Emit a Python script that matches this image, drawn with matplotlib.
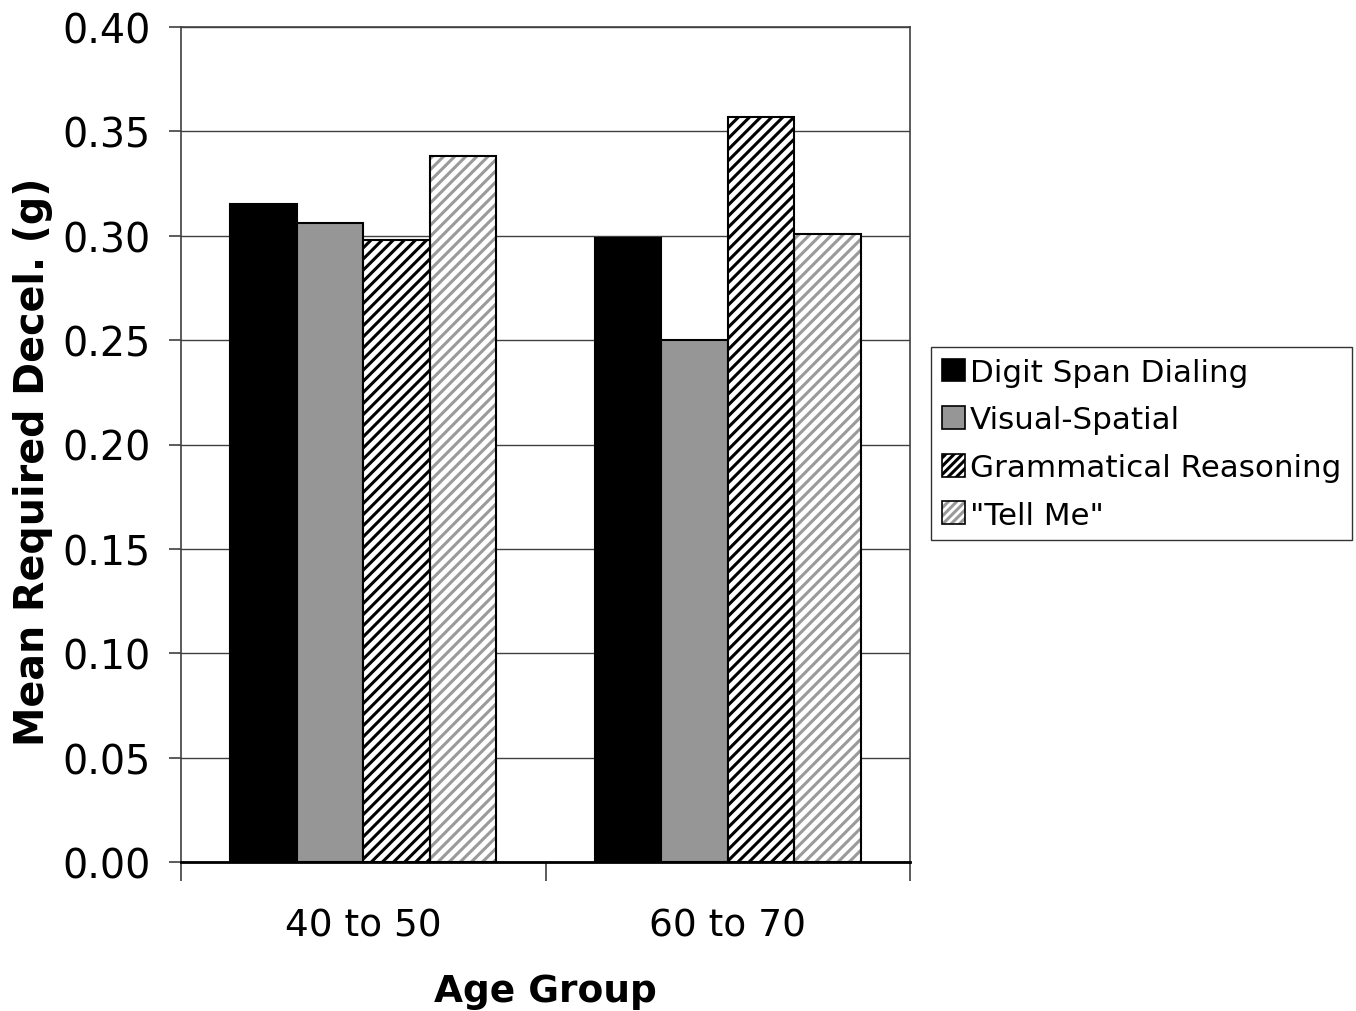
import matplotlib

matplotlib.use("Agg")
import matplotlib.pyplot as plt
import numpy as np

# ---------------------------------------------------------------------------
# Data
# ---------------------------------------------------------------------------

age_groups = ["40 to 50", "60 to 70"]
tasks = ["Digit Span Dialing", "Visual-Spatial", "Grammatical Reasoning", '"Tell Me"']

digit_span = [0.315, 0.299]
visual_spatial = [0.306, 0.250]
grammatical = [0.298, 0.357]
tell_me = [0.338, 0.301]

yticks = [0.00, 0.05, 0.10, 0.15, 0.20, 0.25, 0.30, 0.35, 0.40]

# fill colour, hatch, hatch colour
STYLES = [
    ("#000000", "", None),
    ("#969696", "", None),
    ("#ffffff", "///", "#000000"),
    ("#ffffff", "///", "#9a9a9a"),
]

plt.rcParams["font.family"] = ["DejaVu Sans"]
plt.rcParams["hatch.linewidth"] = 2.2

fig = plt.figure(figsize=(13.56, 10.12), dpi=100)
ax = fig.add_axes([181 / 1356, 1 - 863 / 1012, 729 / 1356, 835 / 1012])

series = [digit_span, visual_spatial, grammatical, tell_me]
x = np.arange(len(age_groups))
width = 0.1824
offsets = (np.arange(4) - 1.5) * width

handles = []
for vals, off, (fc, hatch, hc), name in zip(series, offsets, STYLES, tasks):
    if hatch:
        # hatch layer, then the black outline on top
        ax.bar(x + off, vals, width, color=fc, edgecolor=hc, hatch=hatch,
               linewidth=0, zorder=3)
        ax.bar(x + off, vals, width, fill=False, edgecolor="black",
               linewidth=1.5, zorder=4)
        h = plt.Rectangle((0, 0), 1, 1, facecolor=fc, edgecolor=hc, hatch="////",
                          linewidth=0)
        h2 = plt.Rectangle((0, 0), 1, 1, fill=False, edgecolor="black", linewidth=1.2)
        handles.append((h, h2))
    else:
        ax.bar(x + off, vals, width, color=fc, edgecolor="black", linewidth=1.5,
               zorder=3)
        handles.append(plt.Rectangle((0, 0), 1, 1, facecolor=fc, edgecolor="black",
                                     linewidth=1.2))

ax.set_xlim(-0.5, 1.5)
ax.set_ylim(0, 0.40)
ax.set_yticks(yticks)
ax.set_yticklabels([f"{v:.2f}" for v in yticks], fontsize=28.5)
ax.yaxis.grid(True, color="#404040", linewidth=1.0, zorder=0)
ax.set_axisbelow(True)

ax.set_xticks(x)
ax.set_xticklabels(age_groups, fontsize=27)
ax.set_xticks([-0.5, 0.5, 1.5], minor=True)
ax.tick_params(axis="x", which="major", length=0, pad=33)
ax.tick_params(axis="x", which="minor", length=14, width=1.2, color="#404040")
ax.tick_params(axis="y", length=9, width=1.2, color="#404040", pad=13)

for s in ["top", "right", "left"]:
    ax.spines[s].set_color("#404040")
    ax.spines[s].set_linewidth(1.2)
ax.spines["bottom"].set_color("black")
ax.spines["bottom"].set_linewidth(2)

ax.set_ylabel("Mean Required Decel. (g)", fontsize=28.5, fontweight="bold")
ax.yaxis.set_label_coords(-0.176, 0.48)
ax.set_xlabel("Age Group", fontsize=27, fontweight="bold", labelpad=21)

leg = fig.legend(
    handles,
    tasks,
    loc="upper left",
    bbox_to_anchor=(931 / 1356, 1 - 348 / 1012),
    fontsize=22.3,
    frameon=True,
    fancybox=False,
    edgecolor="black",
    handlelength=0.75,
    handleheight=0.75,
    handletextpad=0.15,
    labelspacing=0.6,
    borderpad=0.35,
    borderaxespad=0,
)
leg.get_frame().set_linewidth(1.0)

fig.savefig("out.png", dpi=100)
